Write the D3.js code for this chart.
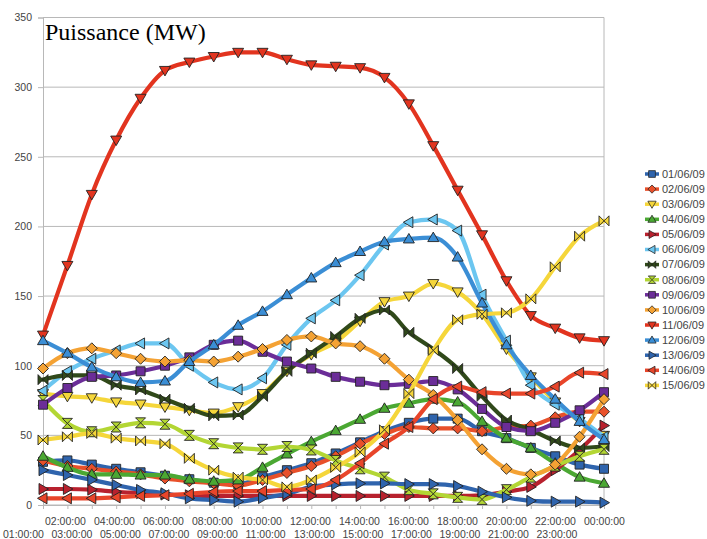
<!DOCTYPE html>
<html><head><meta charset="utf-8">
<script src="https://cdn.jsdelivr.net/npm/d3@7"></script>
<style>html,body{margin:0;padding:0;background:#fff;}svg{display:block;}</style>
</head><body>
<svg id="chart" width="707" height="539"></svg>
<script>
const hours = ["01:00:00","02:00:00","03:00:00","04:00:00","05:00:00","06:00:00","07:00:00","08:00:00","09:00:00","10:00:00","11:00:00","12:00:00","13:00:00","14:00:00","15:00:00","16:00:00","17:00:00","18:00:00","19:00:00","20:00:00","21:00:00","22:00:00","23:00:00","00:00:00"];
const seriesNames = ["01/06/09","02/06/09","03/06/09","04/06/09","05/06/09","06/06/09","07/06/09","08/06/09","09/06/09","10/06/09","11/06/09","12/06/09","13/06/09","14/06/09","15/06/09"];
const yTicks = [0,50,100,150,200,250,300,350];
const titleText = "Puissance (MW)";

const s01 = [31,32,29,26,23.5,21,18.5,16,15,20,25,30,37,45,53,59,62,62,53,48,41,35,29,26];
const s02 = [32,28,26,24,22,19,17,15.6,14,18,23,28,35,44,51,56,55,55,53,56,57,63,67,67];
const s03 = [80,78,77,74,72.5,70.4,68,66,70.6,80,96,108,117,132,146,150,159,153,137,112,92,74,60,50];
const s04 = [35,27,22,22,21.5,21.5,18.5,17,18,27,36.6,45.5,53.4,61.5,69.4,73,76,74,60,48,41,30,20,15.6];
const s05 = [11.5,11.5,11,9.5,8.5,7.5,7,6.5,6.5,6.5,6.5,6.5,6.5,6.5,6.5,6.5,6.5,6.5,7,9.6,13,25,39.5,57];
const s06 = [82,96,105,111,116,116,100,88,83,91,115,134,147,165,187,203,205,197,151,118,86,72,62,49];
const s07 = [90,93,93,86,82.6,76,69.4,64,64.6,78,96,109,121,134,140,124,112,98,78,61,54,46,41,42];
const s08 = [75,58.6,52.6,56,59,58,50,44,41,40,42,39.5,32,26,20,11,8,5.5,4,11,20,28,35,40];
const s09 = [72,84,92,93,96,100,106,115,118,110,103,98,92,88.5,86,87,89,83,69,56,53,59,68,81];
const s10 = [98,109,112.5,109,105,103,104,103,106.5,112,118.5,121,116,114,105,90,79,61,40,26,22,29,49,76];
const s11 = [122,172,223,262,292,312,318,322,325,325,320,316,315,314,307,288,258,226,194,161,136,127,120,118];
const s12 = [118,109,99,92,88,89,103,115,129,139,151,163,174,182,189,191,192,178,145,115,93,76,60,47];
const s13 = [25,21.5,18,14.4,10.8,8.4,4.8,3.6,2.4,5,8,13,14.8,15.5,15.5,15,15,13.6,9.6,5.5,3,2.4,2.4,1.7];
const s14 = [4.8,4.8,4.8,5.5,6.5,7,8,9.5,10,10,10.8,11.5,18,30,44,56,76,85,81,80,80,85,95,94];
const s15 = [46.7,49,51.4,48,46,44,33.5,25,20,18,13,18,27,38,54,80,111,133,137,138,148,171,193,204];

const seriesValues = [s01,s02,s03,s04,s05,s06,s07,s08,s09,s10,s11,s12,s13,s14,s15];
const colors = ["#2f64ad","#e8502a","#f5d63a","#4ba833","#b8212e","#6cc6f0","#30491a","#b3d634","#6b2d98","#f4a234","#e2341f","#3b8ed5","#2f64ad","#e8452a","#f5d63a"];
const symbols = ["square","diamond","down","up","right","left","bowtie","hourglass","square","diamond","down","up","right","left","bowtie"];

const symbolPath = {
  square: "M-4.5,-4.5H4.5V4.5H-4.5Z",
  diamond: "M0,-5.5L5.5,0L0,5.5L-5.5,0Z",
  down: "M-5.5,-4L5.5,-4L0,5.5Z",
  up: "M-5.5,4L5.5,4L0,-5.5Z",
  right: "M-4,-5.5L5.5,0L-4,5.5Z",
  left: "M4,-5.5L-5.5,0L4,5.5Z",
  bowtie: "M-5,-5L0,0L-5,5Z M5,-5L0,0L5,5Z",
  hourglass: "M-5,-5L5,-5L0,0Z M-5,5L5,5L0,0Z"
};

const svg = d3.select("#chart");
svg.append("rect").attr("width",707).attr("height",539).attr("fill","#fff");

const x = d3.scalePoint().domain(hours).range([43, 604]);
const y = d3.scaleLinear().domain([0, 350]).range([505, 17.5]);

// gridlines
svg.append("g").selectAll("line").data(yTicks).join("line")
  .attr("x1", 43).attr("x2", 604)
  .attr("y1", d => y(d)).attr("y2", d => y(d))
  .attr("stroke", "#b8b8b8").attr("stroke-width", 1);
// right border
svg.append("line").attr("x1",604).attr("x2",604).attr("y1",y(350)).attr("y2",y(0))
  .attr("stroke","#b8b8b8");

// y axis
const yAxis = svg.append("g").attr("transform","translate(43,0)")
  .call(d3.axisLeft(y).tickValues(yTicks).tickSize(5).tickPadding(6));
yAxis.select(".domain").attr("stroke","#b8b8b8");
yAxis.selectAll(".tick line").attr("stroke","#b8b8b8");
yAxis.selectAll("text").attr("font-family","'Liberation Sans', Arial, sans-serif")
  .attr("font-size", 10.5).attr("fill","#444");

// x axis ticks
const xAxis = svg.append("g").attr("transform","translate(0,505)")
  .call(d3.axisBottom(x).tickSize(4).tickFormat(""));
xAxis.select(".domain").attr("stroke","#b8b8b8");
xAxis.selectAll(".tick line").attr("stroke","#b8b8b8");

// x labels (staggered in two rows)
const row1 = hours.filter((h,i) => i % 2 === 1);
const row2 = hours.filter((h,i) => i % 2 === 0);
const lx1 = d3.scaleLinear().domain([0, row1.length - 1]).range([45, 45 + 11*49]);
const lx2 = d3.scaleLinear().domain([0, row2.length - 1]).range([3, 3 + 11*48.5]);
const lab = svg.append("g").attr("font-family","'Liberation Sans', Arial, sans-serif")
  .attr("font-size", 10.5).attr("fill","#444");
lab.selectAll("text.r1").data(row1).join("text").attr("class","r1")
  .attr("x",(d,i)=>lx1(i)).attr("y",525).text(d=>d);
lab.selectAll("text.r2").data(row2).join("text").attr("class","r2")
  .attr("x",(d,i)=>lx2(i)).attr("y",537.5).text(d=>d);

// series
const line = d3.line().x((d,i)=>x(hours[i])).y(d=>y(d)).curve(d3.curveMonotoneX);
seriesValues.forEach((vals, k) => {
  const g = svg.append("g");
  g.append("path").attr("d", line(vals)).attr("fill","none")
    .attr("stroke", colors[k]).attr("stroke-width", 4.2)
    .attr("stroke-linejoin","round").attr("stroke-linecap","round");
  g.selectAll("path.m").data(vals).join("path").attr("class","m")
    .attr("transform",(d,i)=>`translate(${x(hours[i])},${y(d)})`)
    .attr("d", symbolPath[symbols[k]])
    .attr("fill", colors[k]).attr("stroke","#222").attr("stroke-width",0.9)
    .attr("stroke-linejoin","round");
});

// title
svg.append("text").attr("x",45).attr("y",40)
  .attr("font-family","'Liberation Serif','Times New Roman',serif")
  .attr("font-size",24).attr("fill","#000").text(titleText);

// legend
const leg = svg.append("g");
const ly = d3.scaleLinear().domain([0, seriesNames.length-1]).range([174, 174 + 14*15.1]);
seriesNames.forEach((name,k) => {
  const gy = ly(k);
  leg.append("line").attr("x1",645).attr("x2",659).attr("y1",gy).attr("y2",gy)
    .attr("stroke",colors[k]).attr("stroke-width",3.5);
  leg.append("path").attr("transform",`translate(652,${gy}) scale(0.75)`)
    .attr("d",symbolPath[symbols[k]]).attr("fill",colors[k])
    .attr("stroke","#222").attr("stroke-width",1);
  leg.append("text").attr("x",662).attr("y",gy).attr("dy","0.35em")
    .attr("font-family","'Liberation Sans', Arial, sans-serif")
    .attr("font-size",11).attr("fill","#444").text(name);
});
</script>
</body></html>
